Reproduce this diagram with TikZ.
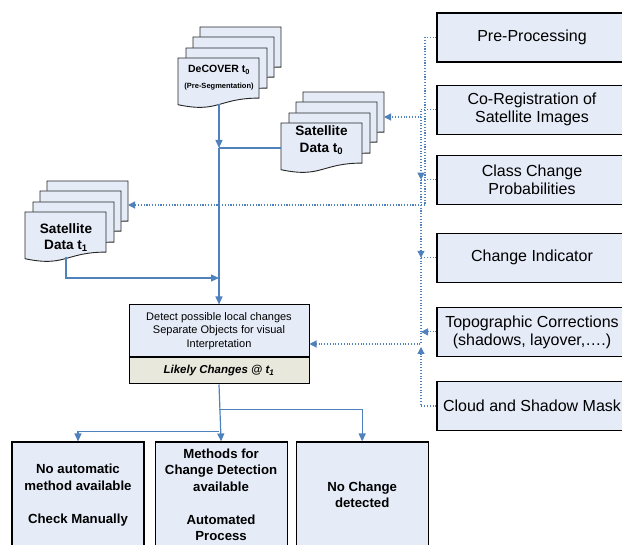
\documentclass[tikz,border=0pt]{standalone}
\usepackage{fontspec}
\setmainfont{Liberation Sans}
\usetikzlibrary{positioning,arrows.meta,calc}
\definecolor{boxblue}{RGB}{229,235,247}
\definecolor{boxsand}{RGB}{232,232,220}
\definecolor{linkblue}{RGB}{79,129,189}

% one page of a document stack: top-left x, y, width, height
\newcommand{\docpage}[4]{%
  \draw[page] (#1,#2) -- ({#1+#3},#2) -- ({#1+#3},{#2+0.802*#4})
    .. controls ({#1+0.5*#3},{#2+0.802*#4}) and ({#1+0.5*#3},{#2+1.107*#4}) .. (#1,{#2+0.934*#4}) -- cycle;}
% four pages, front page top-left given
\newcommand{\docstack}[2]{%
  \docpage{#1+22}{#2-31}{81}{50}
  \docpage{#1+15}{#2-21}{81}{50}
  \docpage{#1+8}{#2-10}{81}{50}
  \docpage{#1}{#2}{81}{50}}

\begin{document}
\begin{tikzpicture}[x=1pt, y=-1pt,
    page/.style={draw=black!85, line width=0.9pt, fill=boxblue},
    rbox/.style={draw, line width=1.1pt, fill=boxblue, minimum width=230pt, minimum height=49pt},
    rtext/.style={xshift=-20pt, align=center, inner sep=1pt, font=\fontsize{16}{18}\selectfont},
    bbox/.style={draw, line width=1.1pt, fill=boxblue, minimum width=132pt, minimum height=106pt, align=center, inner sep=1pt, font=\bfseries\fontsize{13.2}{16.5}\selectfont},
    doctext/.style={align=center, font=\bfseries\fontsize{13.6}{16.5}\selectfont},
    link/.style={linkblue, line width=1.2pt},
    arr/.style={link, -{Triangle[length=8pt,width=7pt]}},
    dots/.style={linkblue, line width=1.1pt, dash pattern=on 1.1pt off 1.7pt},
    dotarr/.style={dots, -{Triangle[length=7pt,width=7pt]}}
]
% page size fixed; the right-hand and bottom boxes run past it
\useasboundingbox (0,0) rectangle (622,545);

% document stacks
\docstack{178}{58}
\node[font=\bfseries\fontsize{10.5}{12}\selectfont] (decover) at (219,70) {DeCOVER t\textsubscript{0}};
\node[font=\bfseries\fontsize{7.5}{9}\selectfont] (preseg) at (219,87) {(Pre-Segmentation)};
\docstack{281}{123}
\node[doctext] (sat0) at (321.5,140) {Satellite\\Data t\textsubscript{0}};
\docstack{25}{212}
\node[doctext] (sat1) at (66,237.5) {Satellite\\Data t\textsubscript{1}};

\coordinate (decout) at (219,104);
\coordinate (trunk) at (219,148);
\coordinate (sat0out) at (281,148);
\coordinate (sat0in) at (384,117);
\coordinate (sat1in) at (128,205);
\coordinate (sat1out) at (66,257);
\coordinate (merge) at (219,278);

% inputs on the right
\node[rbox, label={[rtext]center:{Pre-Processing}}] (pre) at (552,37.5) {};
\node[rbox, below=22pt of pre, label={[rtext]center:{Co-Registration of\\Satellite Images}}] (coreg) {};
\node[rbox, below=20pt of coreg, label={[rtext]center:{Class Change\\Probabilities}}] (class) {};
\node[rbox, below=28pt of class, label={[rtext]center:{Change Indicator}}] (change) {};
\node[rbox, below=24pt of change, label={[rtext]center:{Topographic Corrections\\(shadows, layover,….)}}] (topo) {};
\node[rbox, below=24pt of topo, label={[rtext]center:{Cloud and Shadow Mask}}] (cloud) {};

% analysis box
\node[draw, line width=1pt, fill=boxblue, minimum width=180pt, minimum height=52pt, align=center, inner sep=1pt,
      font=\fontsize{11}{13.5}\selectfont] (detect) at (219,331)
      {Detect possible local changes\\Separate Objects for visual\\Interpretation};
\node[draw, line width=1pt, fill=boxsand, minimum width=180pt, minimum height=26pt, anchor=north,
      font=\bfseries\itshape\fontsize{11.5}{13.5}\selectfont] (likely) at (detect.south) {Likely Changes @ t\textsubscript{1}};

% outcomes
\node[bbox] (manual) at (78,495) {No automatic\\method available\\[16.5pt]Check Manually};
\node[bbox, right=10pt of manual] (method) {Methods for\\Change Detection\\available\\[16.5pt]Automated\\Process};
\node[bbox, right=8pt of method] (nochange) {No Change\\detected};

\coordinate (busA) at (425,205);
\coordinate (busB) at (421,117);
\coordinate (busD) at (421,344);
\coordinate (busE) at (421,347);

% dotted links
\draw[dotarr] (pre.west) -| (busA) -- (sat1in);
\draw[dotarr] (coreg.west) -| (busB) -- (sat0in);
\draw[dotarr] (busB) -- (busB |- class.west);
\draw[dots] (class.west) -- (busB |- class.west);
\draw[dotarr] (busB |- class.west) -- (busB |- change.west);
\draw[dots] (change.west) -- (busB |- change.west);
\draw[dotarr] (busB |- change.west) |- (detect.east |- busD);
\draw[dotarr] (topo.west) -- (busB |- topo.west);
\draw[dotarr] (cloud.west) -| (busE);

% solid links
\draw[arr] (decout) -- (trunk);
\draw[link] (sat0out) -- (trunk);
\draw[arr] (trunk) -- (detect.north);
\draw[arr] (sat1out) |- (merge);
\draw[arr] (likely.south) -- (method.north);
\draw[arr] (likely.south) ++(0,25) -| (nochange.north);
\draw[arr] (likely.south) ++(0,47) -| (manual.north);
\end{tikzpicture}
\end{document}
